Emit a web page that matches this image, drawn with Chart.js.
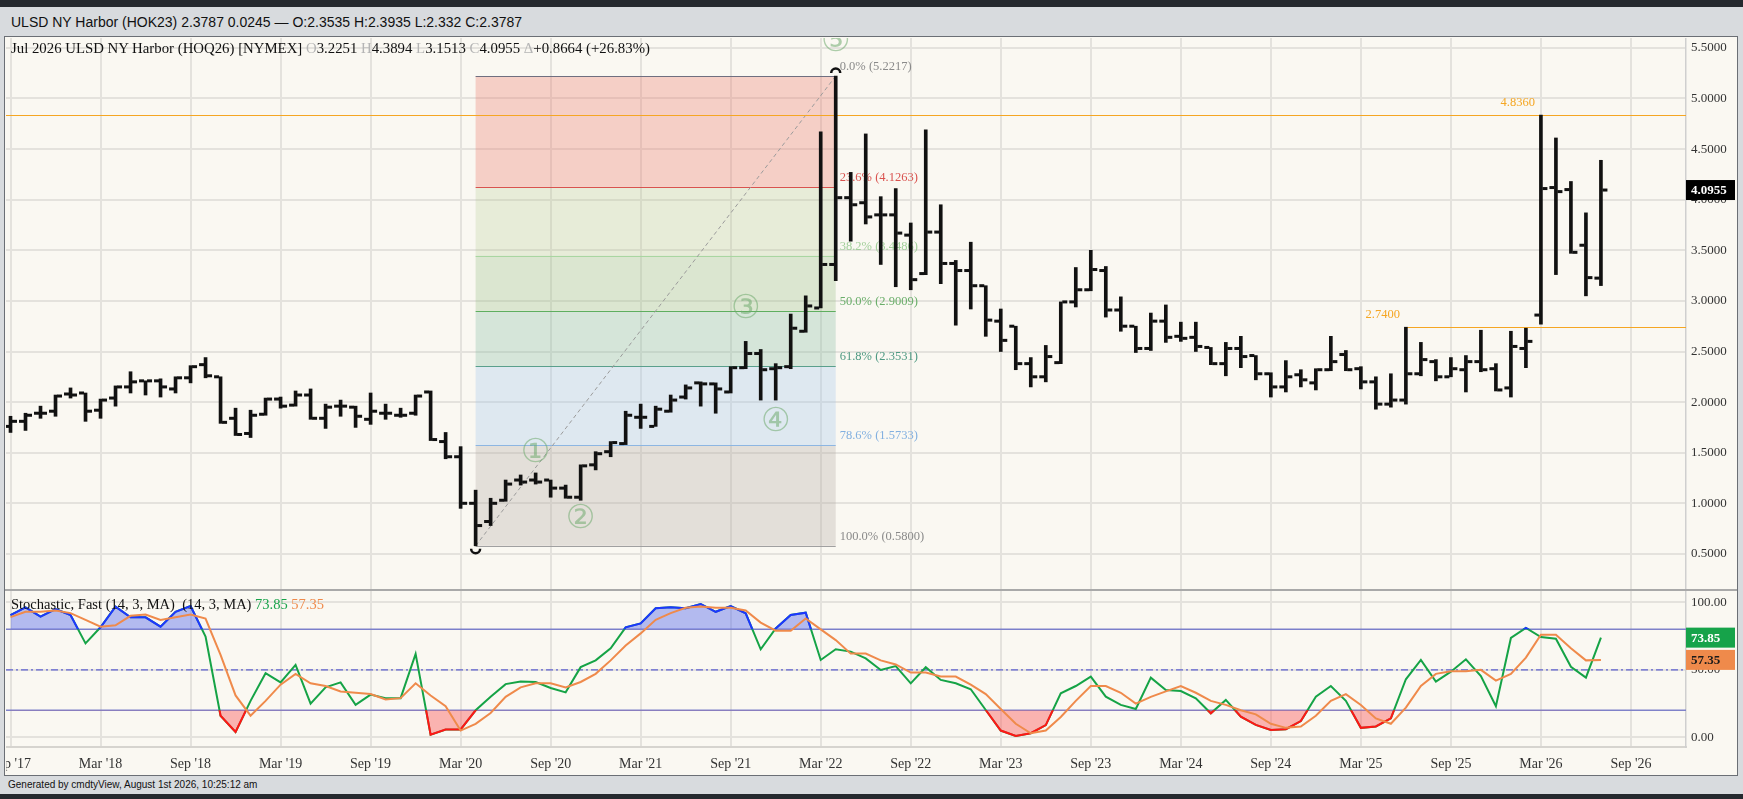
<!DOCTYPE html>
<html>
<head>
<meta charset="utf-8">
<script src="https://cdn.jsdelivr.net/npm/chart.js@4.4.1/dist/chart.umd.min.js"></script>
<style>
  body { margin:0; width:1743px; height:799px; overflow:hidden; background:#d8dbde; position:relative;
         font-family:"Liberation Sans", Arial, sans-serif; }
  .abs { position:absolute; }
  #topbar { left:0; top:0; width:1743px; height:7px; background:#25292e; }
  #hdr { left:0; top:7px; width:1743px; height:30px; line-height:30px; font-size:14px; color:#111;
         padding-left:11px; box-sizing:border-box; white-space:nowrap; }
  #panel { left:4px; top:36px; width:1734px; height:740px; background:#faf8f2; border:1px solid #6b6f75; box-sizing:border-box; }
  #sep { left:5px; top:589px; width:1732px; height:2px; background:#a9a9a9; }
  #price { left:6px; top:38px; }
  #stoch { left:6px; top:591px; }
  #ttl { left:11px; top:40px; font:14.8px "Liberation Serif", serif; color:#111; white-space:nowrap; }
  #sttl { left:11px; top:596px; font:14.5px "Liberation Serif", serif; color:#111; white-space:nowrap; }
  .g { color:#b5b5b5; }
  #ftr { left:0; top:776px; width:1743px; height:18px; line-height:18px; font-size:10px; color:#111;
         padding-left:8px; box-sizing:border-box; }
  #botbar { left:0; top:794px; width:1743px; height:5px; background:#25292e; }
</style>
</head>
<body>
<div id="topbar" class="abs"></div>
<div id="hdr" class="abs">ULSD NY Harbor (HOK23) 2.3787 0.0245 — O:2.3535 H:2.3935 L:2.332 C:2.3787</div>
<div id="panel" class="abs"></div>
<canvas id="price" class="abs" width="1730" height="551"></canvas>
<div id="sep" class="abs"></div>
<canvas id="stoch" class="abs" width="1730" height="184"></canvas>
<div id="ttl" class="abs"></div>
<div id="sttl" class="abs"></div>
<div id="ftr" class="abs">Generated by cmdtyView, August 1st 2026, 10:25:12 am</div>
<div id="botbar" class="abs"></div>

<script>
// Monthly bars, Sep 2017 .. Jul 2026
const months = [
  'Sep17','Oct17','Nov17','Dec17',
  'Jan18','Feb18','Mar18','Apr18','May18','Jun18','Jul18','Aug18','Sep18','Oct18','Nov18','Dec18',
  'Jan19','Feb19','Mar19','Apr19','May19','Jun19','Jul19','Aug19','Sep19','Oct19','Nov19','Dec19',
  'Jan20','Feb20','Mar20','Apr20','May20','Jun20','Jul20','Aug20','Sep20','Oct20','Nov20','Dec20',
  'Jan21','Feb21','Mar21','Apr21','May21','Jun21','Jul21','Aug21','Sep21','Oct21','Nov21','Dec21',
  'Jan22','Feb22','Mar22','Apr22','May22','Jun22','Jul22','Aug22','Sep22','Oct22','Nov22','Dec22',
  'Jan23','Feb23','Mar23','Apr23','May23','Jun23','Jul23','Aug23','Sep23','Oct23','Nov23','Dec23',
  'Jan24','Feb24','Mar24','Apr24','May24','Jun24','Jul24','Aug24','Sep24','Oct24','Nov24','Dec24',
  'Jan25','Feb25','Mar25','Apr25','May25','Jun25','Jul25','Aug25','Sep25','Oct25','Nov25','Dec25',
  'Jan26','Feb26','Mar26','Apr26','May26','Jun26','Jul26'
];

const openP = [
  1.76,1.81,1.89,1.91,
  2.08,2.09,1.92,2.04,2.15,2.21,2.21,2.13,2.24,2.37,2.25,1.84,
  1.69,1.88,2.03,1.97,2.07,1.84,1.96,1.95,1.83,1.89,1.87,1.89,
  2.10,1.61,1.46,1.00,0.82,1.03,1.23,1.23,1.23,1.15,1.06,1.38,
  1.51,1.59,1.85,1.76,1.91,2.05,2.19,2.18,2.10,2.34,2.48,2.33,
  2.35,2.70,2.93,3.36,4.02,3.97,3.85,3.85,3.65,3.27,3.68,3.37,
  3.30,3.15,2.80,2.75,2.38,2.25,2.39,2.99,3.11,3.30,2.91,2.75,
  2.53,2.80,2.65,2.64,2.54,2.38,2.53,2.46,2.28,2.15,2.27,2.19,
  2.32,2.47,2.33,2.20,1.98,2.02,2.28,2.40,2.25,2.32,2.40,2.33,
  2.14,2.53,2.86,4.12,4.10,3.55,3.2251
];
const highP = [
  1.86,1.89,1.96,2.07,
  2.14,2.09,2.03,2.16,2.30,2.21,2.23,2.25,2.36,2.44,2.25,1.94,
  1.92,2.04,2.05,2.11,2.13,1.98,2.02,1.96,2.09,1.98,1.94,2.07,
  2.11,1.70,1.56,1.13,1.05,1.23,1.28,1.30,1.23,1.18,1.38,1.51,
  1.61,1.91,1.98,1.96,2.07,2.17,2.20,2.19,2.35,2.60,2.52,2.38,
  2.87,3.05,4.67,5.2217,4.27,4.65,4.03,4.11,3.77,4.69,3.95,3.40,
  3.58,3.15,2.92,2.75,2.44,2.56,2.99,3.33,3.50,3.34,3.04,2.75,
  2.88,2.96,2.79,2.79,2.54,2.59,2.65,2.46,2.29,2.41,2.32,2.33,
  2.65,2.51,2.35,2.25,2.28,2.74,2.59,2.42,2.44,2.46,2.71,2.38,
  2.70,2.73,4.836,4.61,4.18,3.87,4.3894
];
const lowP = [
  1.70,1.72,1.84,1.86,
  2.04,1.81,1.84,1.96,2.09,2.07,2.05,2.09,2.19,2.24,1.79,1.67,
  1.65,1.87,1.94,1.96,1.83,1.74,1.86,1.75,1.78,1.83,1.85,1.87,
  1.62,1.44,0.95,0.58,0.78,1.02,1.18,1.19,1.06,1.05,1.03,1.33,
  1.46,1.58,1.74,1.76,1.90,2.03,1.96,1.89,2.09,2.33,2.02,2.02,
  2.33,2.69,2.93,3.20,3.59,3.76,3.36,3.14,3.11,3.26,3.17,2.76,
  2.92,2.65,2.50,2.32,2.15,2.20,2.38,2.94,3.10,2.84,2.70,2.49,
  2.51,2.59,2.60,2.50,2.37,2.26,2.34,2.22,2.05,2.10,2.15,2.12,
  2.31,2.31,2.13,1.93,1.95,1.98,2.26,2.21,2.25,2.10,2.30,2.11,
  2.05,2.34,2.77,3.26,3.47,3.05,3.1513
];
const closeP = [
  1.81,1.87,1.89,2.06,
  2.07,1.91,2.02,2.15,2.20,2.21,2.15,2.24,2.35,2.26,1.80,1.68,
  1.87,2.03,1.96,2.07,1.84,1.95,1.96,1.86,1.91,1.89,1.87,2.06,
  1.63,1.46,1.00,0.78,1.00,1.19,1.21,1.21,1.15,1.06,1.37,1.49,
  1.60,1.87,1.85,1.93,2.02,2.14,2.18,2.13,2.34,2.48,2.32,2.34,
  2.73,2.95,3.36,4.02,3.95,3.83,3.85,3.67,3.21,3.68,3.37,3.30,
  3.15,2.81,2.61,2.38,2.25,2.45,2.99,3.11,3.31,2.91,2.75,2.53,
  2.80,2.64,2.63,2.55,2.38,2.53,2.45,2.28,2.15,2.25,2.22,2.32,
  2.40,2.32,2.20,1.98,2.02,2.28,2.42,2.25,2.33,2.40,2.32,2.12,
  2.55,2.60,4.11,4.08,3.48,3.23,4.0955
];

// Stochastic, Fast (14, 3, MA)
const stochK = [
  90.6,96.3,89.4,95,
  90.6,69.6,81.5,96.8,88.9,88.9,82,93,97.3,74.6,16,4,
  27,47.5,40.7,53.7,25,37,40.7,24,31.6,29,29,61.8,
  2,5.8,5.8,20,30,39.4,41.4,41,36.5,33.3,52,57,
  66,81.5,84.4,95.6,96.3,95.6,98.8,93,97.3,91.9,65.2,80.7,
  90.6,92.3,57.3,65.2,63.5,58.5,49.9,52.8,40,51.9,42.5,40,
  35.6,20.2,5,1,3,9,32.6,38,44.9,30.1,24,21,
  44.2,35,34.3,28.9,17.8,27.7,15.3,9.2,5.4,6,12,30,
  38,27,7,8,14,43,57.3,41.2,48.6,57.8,45.4,23,
  73.6,81,74.3,73,52.3,44.2,73.85
];
const stochD = [
  89,93,93,94,
  92,87,82,83,90,91,87,89,91,88,61,31,
  16,27,39,47,40,38,34,33,32,28,29,40,
  31,23,5,10,18,30,37,40,40,37,41,47,
  57,68,77,87,92,96,97,96,96,94,85,79,
  79,88,80,72,62,62,57,54,48,48,45,45,
  39,32,21,10,3,5,15,27,38,38,33,25,
  30,34,38,33,27,24,20,17,10,7,8,16,
  27,32,24,14,10,22,38,47,49,49,50,42,
  47,59,76,76,66,57,57.35
];

const tickMonths = ['Sep17','Mar18','Sep18','Mar19','Sep19','Mar20','Sep20','Mar21','Sep21','Mar22',
                    'Sep22','Mar23','Sep23','Mar24','Sep24','Mar25','Sep25','Mar26','Sep26'];
const tickLabels = ["Sep '17","Mar '18","Sep '18","Mar '19","Sep '19","Mar '20","Sep '20","Mar '21","Sep '21","Mar '22",
                    "Sep '22","Mar '23","Sep '23","Mar '24","Sep '24","Mar '25","Sep '25","Mar '26","Sep '26"];
const priceTicks = [0.5,1.0,1.5,2.0,2.5,3.0,3.5,4.0,4.5,5.0,5.5];
const stochTicks = [0,50,100];

// Fibonacci retracement Apr '20 low -> Apr '22 high
const fibPcts = ['0.0','23.6','38.2','50.0','61.8','78.6','100.0'];
const fibPrices = [5.2217,4.1263,3.4486,2.9009,2.3531,1.5733,0.5800];
const fibFrom = 'Apr20', fibTo = 'Apr22';
const waves = [['①','Aug20',1.49],['②','Nov20',0.84],['③','Oct21',2.92],['④','Dec21',1.80],['⑤','Apr22',5.55]];
const hiLine = 4.836, hiLineAt = 'Mar26';
const loLine = 2.74, loLineFrom = 'Jun25';

const SERIF = '"Liberation Serif","DejaVu Serif",serif';
const GRID = '#e4e2dd';
const MON = ['Jan','Feb','Mar','Apr','May','Jun','Jul','Aug','Sep','Oct','Nov','Dec'];
const mIdx = s => (parseInt(s.slice(3), 10) - 18) * 12 + MON.indexOf(s.slice(0, 3)) - 2;
const xs = months.map(mIdx);
const X_MIN = -6.3, X_MAX = 105.67;

function noPad(s) { s.paddingLeft = 0; s.paddingRight = 0; s.paddingTop = 0; s.paddingBottom = 0; }
const last = a => a[a.length - 1];

// titles
document.getElementById('ttl').innerHTML =
  'Jul 2026 ULSD NY Harbor (HOQ26) [NYMEX] <span class="g">O</span>' + last(openP).toFixed(4) +
  ' <span class="g">H</span>' + last(highP).toFixed(4) + ' <span class="g">L</span>' + last(lowP).toFixed(4) +
  ' <span class="g">C</span>' + last(closeP).toFixed(4) + ' <span class="g">Δ</span>+0.8664 (+26.83%)';
document.getElementById('sttl').innerHTML =
  'Stochastic, Fast (14, 3, MA)&nbsp; (14, 3, MA) <span style="color:#18a34a">' + last(stochK).toFixed(2) +
  '</span> <span style="color:#ef8a4b">' + last(stochD).toFixed(2) + '</span>';

// fib zones, lines and annotations under the bars
const fibPlugin = {
  id: 'fib',
  beforeDatasetsDraw(chart) {
    const { ctx, chartArea: a, scales: { x, y } } = chart;
    const x0 = x.getPixelForValue(mIdx(fibFrom)), x1 = x.getPixelForValue(mIdx(fibTo));
    const zoneCol = ['rgba(236,120,105,0.32)','rgba(175,200,140,0.25)','rgba(150,190,130,0.30)',
                     'rgba(130,185,160,0.30)','rgba(160,195,235,0.30)','rgba(175,165,160,0.30)'];
    const lineCol = ['#6f6f80','#d9534f','#a9d6a1','#5fae5f','#5aa08c','#8db6e2','#a0a0a0'];
    const textCol = ['#8a8a8a','#d9534f','#a2cf9a','#6aae6a','#4f9a83','#82b0e0','#8a8a8a'];
    ctx.save();
    ctx.beginPath(); ctx.rect(a.left, a.top, a.right - a.left, a.bottom - a.top); ctx.clip();
    for (let i = 0; i < fibPrices.length - 1; i++) {
      const ya = y.getPixelForValue(fibPrices[i]), yb = y.getPixelForValue(fibPrices[i + 1]);
      ctx.fillStyle = zoneCol[i];
      ctx.fillRect(x0, ya, x1 - x0, yb - ya);
    }
    ctx.font = '12.5px ' + SERIF;
    ctx.textBaseline = 'middle';
    fibPrices.forEach((p, i) => {
      const yy = Math.round(y.getPixelForValue(p)) + 0.5;
      ctx.strokeStyle = lineCol[i]; ctx.lineWidth = 1;
      ctx.beginPath(); ctx.moveTo(x0, yy); ctx.lineTo(x1, yy); ctx.stroke();
      ctx.fillStyle = textCol[i];
      ctx.fillText(fibPcts[i] + '% (' + p.toFixed(4) + ')', x1 + 4, yy - 10);
    });
    // trend line
    ctx.strokeStyle = '#9a9a9a'; ctx.setLineDash([4, 3]);
    ctx.beginPath();
    ctx.moveTo(x0, y.getPixelForValue(fibPrices[6]));
    ctx.lineTo(x1, y.getPixelForValue(fibPrices[0]));
    ctx.stroke(); ctx.setLineDash([]);
    // orange levels
    ctx.strokeStyle = '#f5a623'; ctx.fillStyle = '#f5a623'; ctx.font = '12.5px ' + SERIF;
    const yh = Math.round(y.getPixelForValue(hiLine)) + 0.5;
    ctx.beginPath(); ctx.moveTo(a.left, yh); ctx.lineTo(a.right, yh); ctx.stroke();
    ctx.textAlign = 'right';
    ctx.fillText(hiLine.toFixed(4), x.getPixelForValue(mIdx(hiLineAt)) - 6, yh - 13);
    const yl = Math.round(y.getPixelForValue(loLine)) + 0.5, xl = x.getPixelForValue(mIdx(loLineFrom));
    ctx.beginPath(); ctx.moveTo(xl, yl); ctx.lineTo(a.right, yl); ctx.stroke();
    ctx.fillText(loLine.toFixed(4), xl - 6, yl - 13);
    // wave labels
    ctx.textAlign = 'center';
    ctx.font = '33px "DejaVu Sans","Noto Sans CJK JP",sans-serif';
    ctx.fillStyle = 'rgba(110,170,110,0.55)';
    waves.forEach(([t, m, p]) => ctx.fillText(t, x.getPixelForValue(mIdx(m)), y.getPixelForValue(p)));
    ctx.restore();
  }
};

// open / close ticks and pivot marks
const ohlcPlugin = {
  id: 'ohlc',
  afterDatasetsDraw(chart) {
    const { ctx, scales: { x, y } } = chart;
    ctx.save();
    ctx.fillStyle = '#111';
    xs.forEach((m, i) => {
      const px = x.getPixelForValue(m);
      ctx.fillRect(px - 6.5, y.getPixelForValue(openP[i]) - 1.5, 5, 3);
      ctx.fillRect(px + 1.5, y.getPixelForValue(closeP[i]) - 1.5, 5, 3);
    });
    ctx.strokeStyle = '#111'; ctx.lineWidth = 2.5;
    const iLo = months.indexOf(fibFrom), iHi = months.indexOf(fibTo);
    ctx.beginPath();
    ctx.arc(x.getPixelForValue(xs[iLo]), y.getPixelForValue(lowP[iLo]) + 3, 4.5, 0, Math.PI);
    ctx.stroke();
    ctx.beginPath();
    ctx.arc(x.getPixelForValue(xs[iHi]), y.getPixelForValue(highP[iHi]) - 3, 4.5, Math.PI, 2 * Math.PI);
    ctx.stroke();
    ctx.restore();
  }
};

function axisBox(chart, value, text, bg, fg) {
  const { ctx, scales: { y } } = chart;
  const yy = y.getPixelForValue(value);
  ctx.save();
  ctx.fillStyle = bg;
  ctx.fillRect(y.left, yy - 10, 49, 20);
  ctx.fillStyle = fg;
  ctx.font = 'bold 13px ' + SERIF;
  ctx.textBaseline = 'middle'; ctx.textAlign = 'left';
  ctx.fillText(text, y.left + 5, yy + 1);
  ctx.restore();
}

const priceBox = {
  id: 'priceBox',
  afterDraw(chart) { axisBox(chart, last(closeP), last(closeP).toFixed(4), '#000', '#fff'); }
};

new Chart(document.getElementById('price'), {
  type: 'bar',
  data: {
    datasets: [{
      data: xs.map((m, i) => ({ x: m, y: [lowP[i], highP[i]] })),
      backgroundColor: '#111',
      barThickness: 3,
      grouped: false
    }]
  },
  options: {
    responsive: false, animation: false, events: [],
    layout: { padding: 0 },
    plugins: { legend: { display: false }, tooltip: { enabled: false } },
    scales: {
      x: {
        type: 'linear', min: X_MIN, max: X_MAX, offset: false,
        afterBuildTicks: s => { s.ticks = tickMonths.map(t => ({ value: mIdx(t) })); },
        afterFit: s => { noPad(s); s.height = 0; },
        grid: { color: GRID, lineWidth: 2, drawTicks: false, offset: false },
        border: { display: false },
        ticks: { display: false }
      },
      y: {
        position: 'right', min: 0.1532, max: 5.5978,
        afterBuildTicks: s => { s.ticks = priceTicks.map(v => ({ value: v })); },
        afterFit: s => { noPad(s); s.width = 50; },
        grid: { color: GRID, lineWidth: 2, drawTicks: false },
        border: { display: true, color: '#cfcfcf', width: 1.5 },
        ticks: { padding: 5, color: '#333', font: { family: SERIF, size: 13 }, callback: v => Number(v).toFixed(4) }
      }
    }
  },
  plugins: [fibPlugin, ohlcPlugin, priceBox]
});

// stochastic panel
const zoneClip = {
  id: 'zoneClip',
  beforeDatasetDraw(chart, args) {
    const ds = chart.data.datasets[args.index];
    if (!ds.zone) return;
    const { ctx, chartArea: a, scales: { y } } = chart;
    ctx.save();
    ctx.beginPath();
    if (ds.zone === 'over') {
      const yy = y.getPixelForValue(80);
      ctx.rect(a.left, a.top, a.right - a.left, yy - a.top);
    } else {
      const yy = y.getPixelForValue(20);
      ctx.rect(a.left, yy, a.right - a.left, a.bottom - yy);
    }
    ctx.clip();
  },
  afterDatasetDraw(chart, args) {
    if (chart.data.datasets[args.index].zone) chart.ctx.restore();
  }
};

const stochLines = {
  id: 'stochLines',
  beforeDatasetsDraw(chart) {
    const { ctx, chartArea: a, scales: { y } } = chart;
    ctx.save();
    ctx.strokeStyle = '#7f82c9'; ctx.lineWidth = 1.5;
    [80, 20].forEach(v => {
      const yy = y.getPixelForValue(v);
      ctx.beginPath(); ctx.moveTo(a.left, yy); ctx.lineTo(a.right, yy); ctx.stroke();
    });
    ctx.strokeStyle = '#5d61cf'; ctx.lineWidth = 1.2; ctx.setLineDash([7, 3, 2, 3]);
    const y50 = y.getPixelForValue(50);
    ctx.beginPath(); ctx.moveTo(a.left, y50); ctx.lineTo(a.right, y50); ctx.stroke();
    ctx.restore();
  },
  afterDraw(chart) {
    axisBox(chart, last(stochK), last(stochK).toFixed(2), '#16a34a', '#fff');
    axisBox(chart, last(stochD), last(stochD).toFixed(2), '#ef8a4b', '#1a1a1a');
  }
};

const pts = arr => xs.map((m, i) => ({ x: m, y: arr[i] }));

new Chart(document.getElementById('stoch'), {
  type: 'line',
  data: {
    datasets: [
      { data: pts(stochD), borderColor: '#ef8a4b', borderWidth: 2, pointRadius: 0, order: 0 },
      { data: pts(stochK), borderColor: '#1d36ff', borderWidth: 2, pointRadius: 0, order: 1, zone: 'over',
        fill: { target: { value: 80 }, above: 'rgba(80,100,235,0.42)', below: 'rgba(0,0,0,0)' } },
      { data: pts(stochK), borderColor: '#ff1616', borderWidth: 2, pointRadius: 0, order: 2, zone: 'under',
        fill: { target: { value: 20 }, above: 'rgba(0,0,0,0)', below: 'rgba(250,95,95,0.45)' } },
      { data: pts(stochK), borderColor: '#15a346', borderWidth: 2, pointRadius: 0, order: 3 }
    ]
  },
  options: {
    responsive: false, animation: false, events: [],
    layout: { padding: 0 },
    plugins: { legend: { display: false }, tooltip: { enabled: false } },
    scales: {
      x: {
        type: 'linear', min: X_MIN, max: X_MAX, offset: false,
        afterBuildTicks: s => { s.ticks = tickMonths.map(t => ({ value: mIdx(t) })); },
        afterFit: s => { noPad(s); s.height = 28; },
        grid: { color: GRID, lineWidth: 2, drawTicks: false },
        border: { display: true, color: '#d6d4cf', width: 2 },
        ticks: {
          autoSkip: false, maxRotation: 0, padding: 9, color: '#333',
          font: { family: SERIF, size: 14 },
          callback: v => tickLabels[tickMonths.map(mIdx).indexOf(v)]
        }
      },
      y: {
        position: 'right', min: -7.19, max: 108.4,
        afterBuildTicks: s => { s.ticks = stochTicks.map(v => ({ value: v })); },
        afterFit: s => { noPad(s); s.width = 50; },
        grid: { color: GRID, lineWidth: 2, drawTicks: false },
        border: { display: true, color: '#cfcfcf', width: 1.5 },
        ticks: { padding: 5, color: '#333', font: { family: SERIF, size: 13 }, callback: v => Number(v).toFixed(2) }
      }
    }
  },
  plugins: [zoneClip, stochLines]
});
</script>
</body>
</html>
